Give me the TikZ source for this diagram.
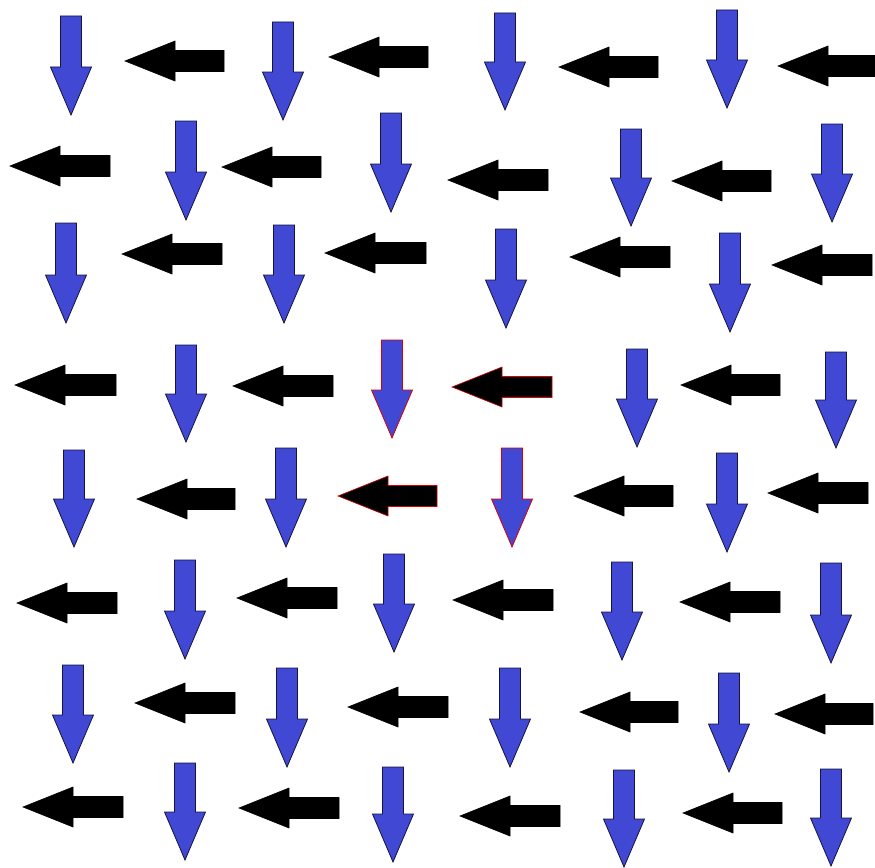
\documentclass[tikz,border=0pt]{standalone}
\definecolor{arrblue}{RGB}{64,72,212}
\definecolor{outl}{RGB}{20,20,60}
\tikzset{
  dnarrow/.style={fill=arrblue,draw=outl,line width=0.8pt,line join=miter},
  lfarrow/.style={fill=black,draw=black,line width=0.6pt,line join=miter},
  hilite/.style={draw=red!85!black}
}
\newcommand\DA[4][]{\filldraw[dnarrow,#1] (#2-10.5,#3) -- (#2+10.5,#3) -- (#2+10.5,#4-48) -- (#2+20.5,#4-48) -- (#2,#4) -- (#2-20.5,#4-48) -- (#2-10.5,#4-48) -- cycle;}
\newcommand\LA[4][]{\filldraw[lfarrow,#1] (#2,#4) -- (#2+50,#4-20) -- (#2+50,#4-10.5) -- (#3,#4-10.5) -- (#3,#4+10.5) -- (#2+50,#4+10.5) -- (#2+50,#4+20) -- cycle;}
\begin{document}
\begin{tikzpicture}[x=1pt,y=-1pt]
\useasboundingbox (0,0) rectangle (875,867);
\fill[white] (0,0) rectangle (875,867);
\clip (0,0) rectangle (875,867);
% down arrows: x, top, tip
\DA{71}{16}{115} \DA{283}{22}{120} \DA{505}{13}{110} \DA{727}{10}{108}
\DA{186}{121}{220} \DA{391}{113}{212} \DA{631}{129}{226} \DA{832}{124}{222}
\DA{66}{223}{323} \DA{284}{225}{323} \DA{506}{229}{328} \DA{730}{233}{332}
\DA{186}{345}{442} \DA[hilite]{392}{340}{438} \DA{637}{349}{447} \DA{836}{352}{448}
\DA{74}{450}{547} \DA{286}{448}{547} \DA[hilite]{512}{448}{547} \DA{727}{453}{552}
\DA{185}{560}{659} \DA{394}{554}{652} \DA{622}{562}{660} \DA{831}{563}{663}
\DA{73}{665}{763} \DA{287}{668}{767} \DA{510}{668}{767} \DA{729}{673}{772}
\DA{185}{763}{860} \DA{393}{767}{862} \DA{624}{770}{867} \DA{831}{769}{866}
% left arrows: tip, right end, y
\LA{125}{224}{61} \LA{329}{428}{57} \LA{559}{658}{67} \LA{778}{877}{66}
\LA{10}{110}{166} \LA{222}{321}{167} \LA{448}{548}{180} \LA{672}{771}{181}
\LA{122}{222}{254} \LA{325}{426}{253} \LA{570}{670}{257} \LA{772}{872}{265}
\LA{15}{116}{385} \LA{233}{333}{386} \LA[hilite]{452}{552}{387} \LA{681}{780}{385}
\LA{137}{235}{499} \LA[hilite]{338}{437}{496} \LA{574}{673}{496} \LA{768}{868}{493}
\LA{17}{117}{603} \LA{237}{337}{598} \LA{453}{553}{600} \LA{680}{780}{602}
\LA{135}{235}{703} \LA{348}{448}{707} \LA{580}{678}{712} \LA{775}{873}{714}
\LA{23}{123}{807} \LA{239}{339}{808} \LA{460}{560}{816} \LA{683}{782}{813}
\end{tikzpicture}
\end{document}
